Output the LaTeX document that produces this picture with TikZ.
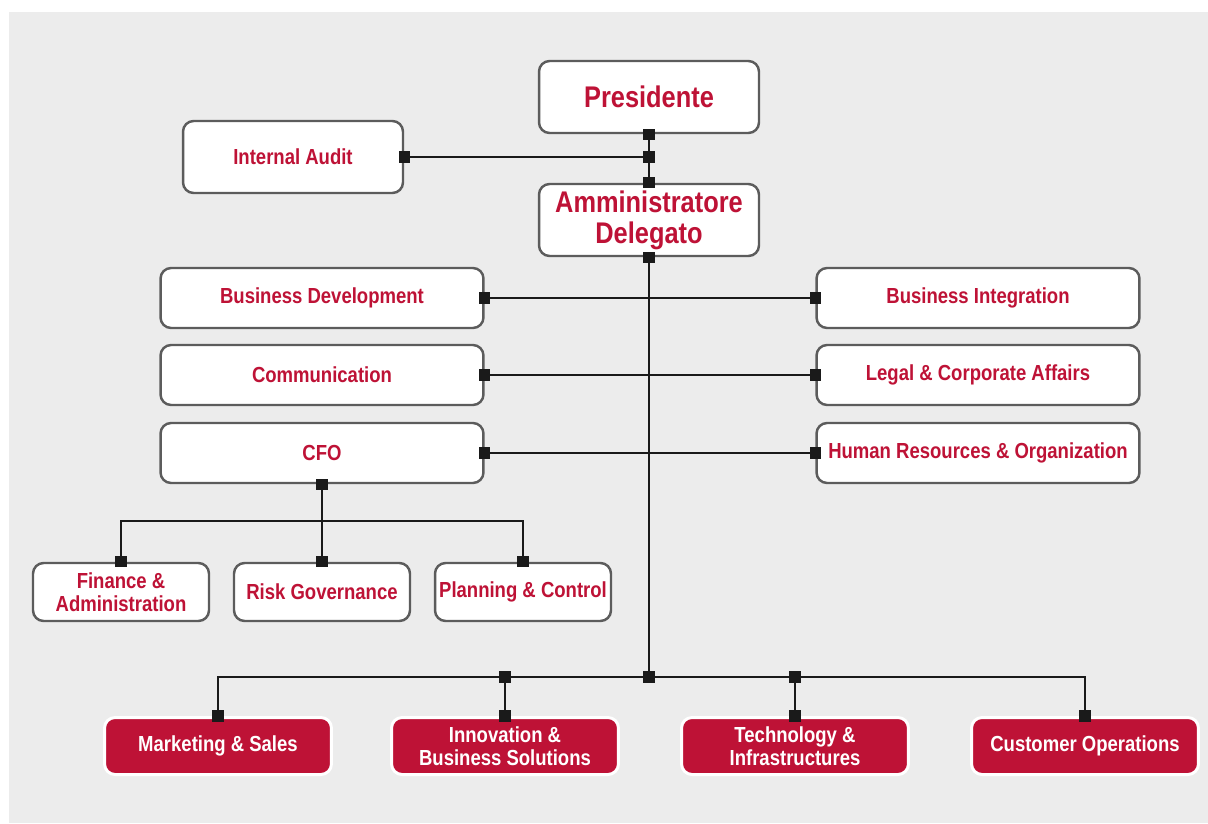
\documentclass[tikz,border=0pt]{standalone}
\usepackage{fontspec}
\setmainfont{Liberation Sans}[FakeStretch=0.85]
\usetikzlibrary{arrows.meta}
\definecolor{brandred}{HTML}{BE1236}
\definecolor{boxgray}{HTML}{5C5C5C}
\definecolor{bggray}{HTML}{ECECEC}
\definecolor{linkblack}{HTML}{1A1A1A}
\begin{document}
\begin{tikzpicture}[x=0.02cm, y=-0.02cm,
	sq/.tip={Square[length=6.4pt, width=6.4pt]},
	box/.style={rectangle, rounded corners=6pt, draw=boxgray, line width=1.4pt, fill=white,
		text=brandred, font=\bfseries\fontsize{12.4}{13.4}\selectfont, align=center, inner sep=0pt},
	top/.style={box, minimum width=4.4cm, minimum height=1.44cm, font=\bfseries\fontsize{17}{17.5}\selectfont},
	side/.style={box, minimum width=6.46cm, minimum height=1.2cm},
	sub/.style={box, minimum width=3.52cm, minimum height=1.16cm},
	unit/.style={box, draw=white, line width=1.7pt, fill=brandred, text=white, minimum width=4.54cm, minimum height=1.14cm},
	link/.style={draw=linkblack, line width=1.4pt, shorten >=-3.2pt, shorten <=-3.2pt}]
	\useasboundingbox (0, 0) rectangle (1208, 823);
	\fill[bggray] (9, 12) rectangle (1208, 823);
	% vertici
	\node (P)   at ( 649,  97)	[top]	{Presidente};
	\node (AD)  at ( 649, 220)	[top]	{Amministratore\\Delegato};
	\node (IA)  at ( 293, 157)	[top]	{\fontsize{12.4}{13.4}\selectfont Internal Audit};
	\node (BD)  at ( 322, 298)	[side]	{Business Development};
	\node (CM)  at ( 322, 375)	[side]	{Communication};
	\node (CFO) at ( 322, 453)	[side]	{CFO};
	\node (BI)  at ( 978, 298)	[side]	{Business Integration};
	\node (LCA) at ( 978, 375)	[side]	{Legal \& Corporate Affairs};
	\node (HRO) at ( 978, 453)	[side]	{Human Resources \& Organization};
	\node (FA)  at ( 121, 592)	[sub]	{Finance \&\\Administration};
	\node (RG)  at ( 322, 592)	[sub]	{Risk Governance};
	\node (PC)  at ( 523, 592)	[sub]	{Planning \& Control};
	\node (MS)  at ( 218, 746)	[unit]	{Marketing \& Sales};
	\node (IBS) at ( 505, 746)	[unit]	{Innovation \&\\Business Solutions};
	\node (TI)  at ( 795, 746)	[unit]	{Technology \&\\Infrastructures};
	\node (CO)  at (1085, 746)	[unit]	{Customer Operations};
	\coordinate (J1)  at (649, 157);
	\coordinate (BUS) at (649, 677);
	\coordinate (BAR) at (322, 521);
	% collegamenti
	\draw[link, sq-sq] (P.south) -- (AD.north);
	\draw[link, sq-sq] (IA.east) -- (J1);
	\draw[link, sq-sq] (AD.south) -- (BUS);
	\draw[link, sq-sq] (BD.east) -- (BI.west);
	\draw[link, sq-sq] (CM.east) -- (LCA.west);
	\draw[link, sq-sq] (CFO.east) -- (HRO.west);
	\draw[link, sq-sq] (CFO.south) -- (RG.north);
	\draw[link, sq-sq] (FA.north) |- (BAR) -| (PC.north);
	\draw[link, -sq] (BUS) -| (MS.north);
	\draw[link, -sq] (BUS) -| (CO.north);
	\draw[link, sq-sq] (IBS.north |- BUS) -- (IBS.north);
	\draw[link, sq-sq] (TI.north |- BUS) -- (TI.north);
\end{tikzpicture}
\end{document}
